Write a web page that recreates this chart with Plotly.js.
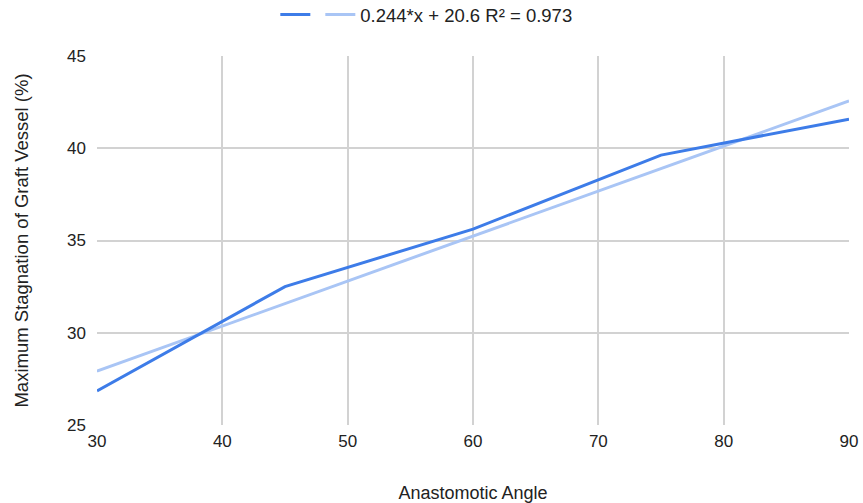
<!DOCTYPE html>
<html>
<head>
<meta charset="utf-8">
<script src="https://cdn.plot.ly/plotly-3.0.1.min.js"></script>
<style>html,body{margin:0;padding:0;background:#fff;}#chart{width:863px;height:503px;}</style>
</head>
<body>
<div id="chart"></div>
<script>
// Data
const angles = [30, 45, 60, 75, 90];
const stagnation = [26.85, 32.5, 35.62, 39.63, 41.58];
// Trendline endpoints as drawn (0.244*x + 20.6)
const trendX = [30, 90];
const trendY = [27.92, 42.56];
const trendLabel = '0.244*x + 20.6 R² = 0.973';
const xTicks = [30, 40, 50, 60, 70, 80, 90];
const yTicks = [25, 30, 35, 40, 45];

const font = 'Liberation Sans, Arial, sans-serif';
const textColor = '#222222';

const data = [
  {
    x: trendX, y: trendY, type: 'scatter', mode: 'lines', name: trendLabel,
    line: {color: '#a9c5f5', width: 3}
  },
  {
    x: angles, y: stagnation, type: 'scatter', mode: 'lines', name: '',
    line: {color: '#3d7ce8', width: 3}
  }
];

const layout = {
  width: 863, height: 503,
  margin: {l: 97, r: 14, t: 56, b: 78, autoexpand: false},
  paper_bgcolor: '#ffffff', plot_bgcolor: '#ffffff',
  font: {family: font, size: 17, color: textColor},
  showlegend: true,
  legend: {
    orientation: 'h', xref: 'container', yref: 'container',
    x: 0.494, xanchor: 'center', y: 0.97, yanchor: 'middle',
    font: {family: font, size: 18.5, color: textColor},
    traceorder: 'reversed', itemwidth: 30
  },
  xaxis: {
    range: [30, 90], tickvals: xTicks, ticktext: xTicks.map(String),
    showgrid: true, gridcolor: '#d2d2d2', gridwidth: 2,
    zeroline: false, showline: false, ticks: '',
    tickfont: {family: font, size: 17, color: textColor},
    ticklabelstandoff: 4,
    title: {text: 'Anastomotic Angle', font: {family: font, size: 18, color: textColor}, standoff: 36}
  },
  yaxis: {
    range: [25, 45], tickvals: yTicks, ticktext: yTicks.map(String),
    showgrid: true, gridcolor: '#d2d2d2', gridwidth: 2,
    zeroline: false, showline: false, ticks: '',
    tickfont: {family: font, size: 17, color: textColor},
    ticklabelstandoff: 10,
    title: {text: 'Maximum Stagnation of Graft Vessel (%)', font: {family: font, size: 18.5, color: textColor}, standoff: 33}
  }
};

Plotly.newPlot('chart', data, layout, {displayModeBar: false, staticPlot: true});
</script>
</body>
</html>
